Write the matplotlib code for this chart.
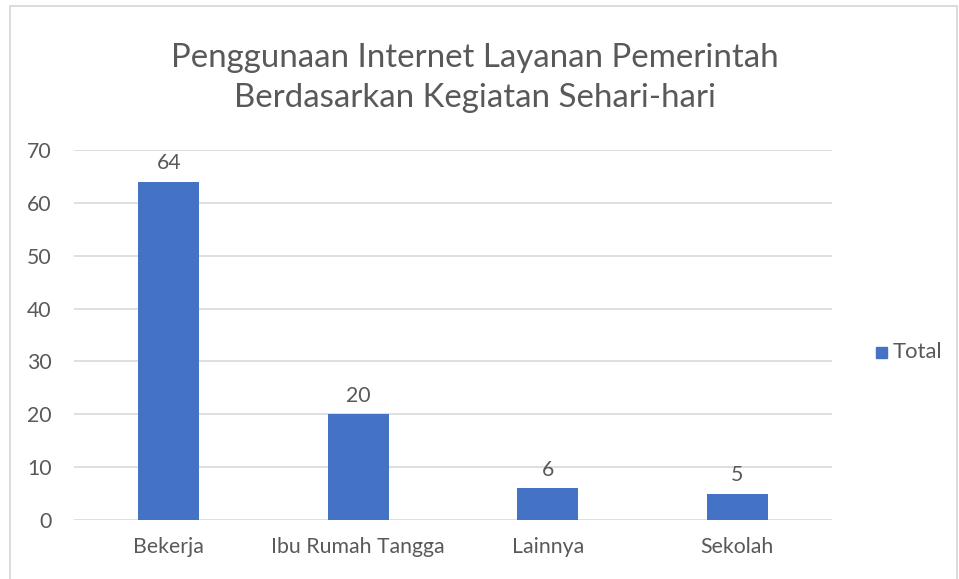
import matplotlib
matplotlib.use("Agg")
import matplotlib.pyplot as plt
from matplotlib.patches import Rectangle

categories = ["Bekerja", "Ibu Rumah Tangga", "Lainnya", "Sekolah"]
values = [64, 20, 6, 5]
yticks = [0, 10, 20, 30, 40, 50, 60, 70]
title = "Penggunaan Internet Layanan Pemerintah\nBerdasarkan Kegiatan Sehari-hari"
series_name = "Total"

W, H = 959, 579
fig = plt.figure(figsize=(W / 100, H / 100), dpi=100)
plt.rcParams['font.family'] = ['Lato', 'DejaVu Sans']
txt = "#595959"
bar_color = "#4472C4"
grid_color = "#D9D9D9"
fs = 15.3

# outer chart border
fig.patches.append(Rectangle((9.5 / W, -0.01), (957 - 9.5) / W, 1 - 5.5 / H + 0.01,
                             transform=fig.transFigure, fill=False,
                             edgecolor=grid_color, linewidth=1.3))

left, right = 74 / W, 832 / W
bottom, top = 1 - 520 / H, 1 - 150 / H
ax = fig.add_axes([left, bottom, right - left, top - bottom])

x = list(range(len(categories)))
bars = ax.bar(x, values, width=0.32, color=bar_color, zorder=3)
ax.set_xlim(-0.5, len(categories) - 0.5)
ax.set_ylim(0, 70)
ax.set_yticks(yticks)
ax.set_xticks(x)
ax.set_xticklabels(categories)
ax.tick_params(axis='both', length=0, colors=txt, labelsize=fs)
ax.tick_params(axis='y', pad=16)
ax.tick_params(axis='x', pad=12)
ax.grid(axis='y', color=grid_color, linewidth=1.2, zorder=0)
for s in ax.spines.values():
    s.set_visible(False)

for b, v in zip(bars, values):
    ax.annotate(str(v), (b.get_x() + b.get_width() / 2, v), xytext=(0, 6),
                textcoords='offset points', ha='center', va='bottom',
                color=txt, fontsize=fs)

fig.text(475 / W, 1 - 78 / H, title, ha='center', va='center', color=txt,
         fontsize=23.8, linespacing=1.42)

# legend
fig.patches.append(Rectangle((876 / W, 1 - 358 / H), 11 / W, 11 / H,
                             transform=fig.transFigure, color=bar_color))
fig.text(893 / W, 1 - 352 / H, series_name, ha='left', va='center',
         color=txt, fontsize=fs + 0.5)

fig.savefig("out.png", dpi=100, facecolor="white")
